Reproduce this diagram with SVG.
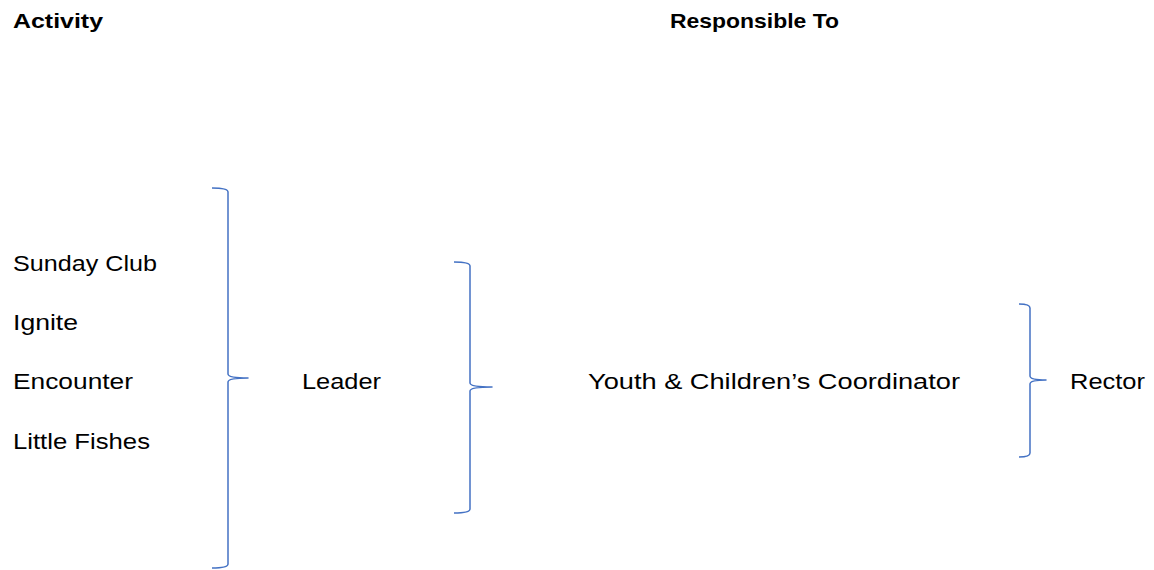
<svg xmlns="http://www.w3.org/2000/svg" width="1154" height="570" viewBox="0 0 1154 570">
<style>
text{font-family:"Liberation Sans",Arial,sans-serif;font-size:22px;fill:#000}
.h{font-weight:bold;font-size:21px}
.br{fill:none;stroke:#4472C4;stroke-width:1.5;stroke-linejoin:round}
</style>
<rect width="1154" height="570" fill="#fff"/>
<g id="header-activity"><text class="h" x="13" y="28" textLength="90" lengthAdjust="spacingAndGlyphs">Activity</text></g>
<g id="header-responsible"><text class="h" x="670" y="28" textLength="169" lengthAdjust="spacingAndGlyphs">Responsible To</text></g>
<g id="sunday-club"><text x="13" y="271" textLength="144" lengthAdjust="spacingAndGlyphs">Sunday Club</text></g>
<g id="ignite"><text x="13" y="330" textLength="65" lengthAdjust="spacingAndGlyphs">Ignite</text></g>
<g id="encounter"><text x="13" y="389" textLength="120" lengthAdjust="spacingAndGlyphs">Encounter</text></g>
<g id="little-fishes"><text x="13" y="449" textLength="137" lengthAdjust="spacingAndGlyphs">Little Fishes</text></g>
<g id="leader"><text x="302" y="389" textLength="79" lengthAdjust="spacingAndGlyphs">Leader</text></g>
<g id="coordinator"><text x="588" y="389" textLength="372" lengthAdjust="spacingAndGlyphs">Youth &amp; Children’s Coordinator</text></g>
<g id="rector"><text x="1070" y="389" textLength="75" lengthAdjust="spacingAndGlyphs">Rector</text></g>
<g id="connectors">
<path class="br" d="M212,188 Q228,188 228,192 L228,374 Q228,378 248,378 Q228,378 228,382 L228,564 Q228,568 212,568"/>
<path class="br" d="M454,262 Q470,262 470,266 L470,383 Q470,387 492,387 Q470,387 470,391 L470,509 Q470,513 454,513"/>
<path class="br" d="M1019,304 Q1030,304 1030,308 L1030,376 Q1030,380 1046,380 Q1030,380 1030,384 L1030,453 Q1030,457 1019,457"/>
</g>
</svg>
